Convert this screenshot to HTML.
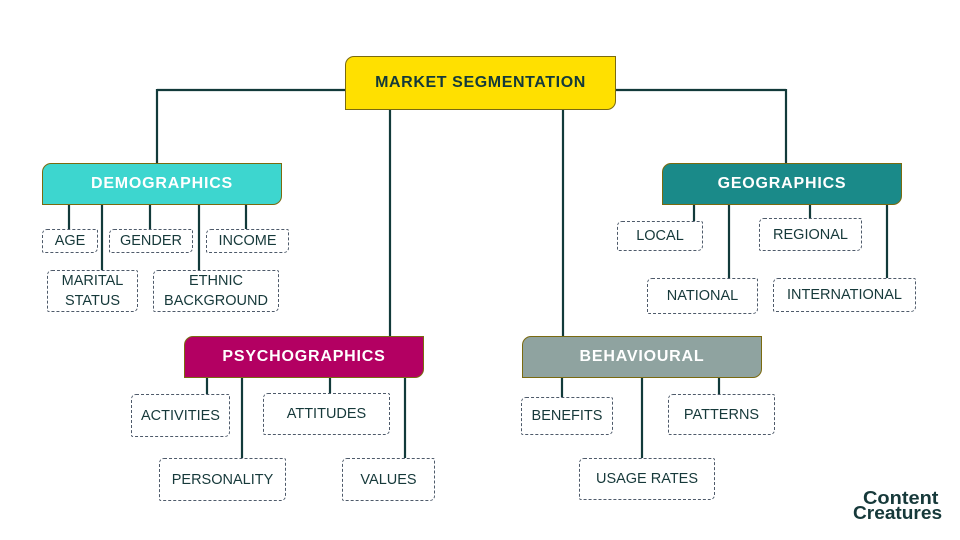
<!DOCTYPE html>
<html>
<head>
<meta charset="utf-8">
<style>
  html, body { margin:0; padding:0; }
  body { width:960px; height:540px; background:#ffffff; position:relative; overflow:hidden;
         font-family:"Liberation Sans", "DejaVu Sans", sans-serif; }
  svg.lines { position:absolute; left:0; top:0; }
  .hd { position:absolute; box-sizing:border-box; border:1px solid #7a6a10;
        border-radius:9px 0 9px 0; color:#fff; font-weight:bold; font-size:16px;
        display:flex; align-items:center; justify-content:center; letter-spacing:0.8px; }
  .main { background:#ffe000; color:#143a3a; font-size:16px; letter-spacing:0.6px; }
  .lf { position:absolute; box-sizing:border-box; border:1px dashed #4e5a6a;
        border-radius:5px 2px 5px 2px; background:#fff; color:#16393a; font-size:14.5px;
        display:flex; align-items:center; justify-content:center; text-align:center;
        line-height:20px; }
  .logo { position:absolute; color:#16393a; font-size:18px; line-height:15px; font-weight:bold;
          white-space:nowrap; transform-origin:0 0; }
</style>
</head>
<body>
<svg class="lines" width="960" height="540" viewBox="0 0 960 540">
  <g stroke="#123a3a" stroke-width="2.2" fill="none">
    <path d="M157 90 H346 M615 90 H786"/>
    <path d="M157 89 V164 M786 89 V164"/>
    <path d="M390 109 V337 M563 109 V337"/>
    <path d="M69 204 V230 M102 204 V271 M150 204 V230 M199 204 V271 M246 204 V230"/>
    <path d="M694 204 V222 M729 204 V279 M810 204 V219 M887 204 V279"/>
    <path d="M207 377 V395 M242 377 V459 M330 377 V394 M405 377 V459"/>
    <path d="M562 377 V398 M642 377 V459 M719 377 V395"/>
  </g>
</svg>

<div class="hd main" style="left:345px;top:56px;width:271px;height:54px;">MARKET SEGMENTATION</div>

<div class="hd" style="left:42px;top:163px;width:240px;height:42px;background:#3dd6cf;">DEMOGRAPHICS</div>
<div class="hd" style="left:662px;top:163px;width:240px;height:42px;background:#1a8a89;">GEOGRAPHICS</div>
<div class="hd" style="left:184px;top:336px;width:240px;height:42px;background:#b30062;">PSYCHOGRAPHICS</div>
<div class="hd" style="left:522px;top:336px;width:240px;height:42px;background:#8fa3a0;">BEHAVIOURAL</div>

<div class="lf" style="left:42px;top:229px;width:56px;height:24px;">AGE</div>
<div class="lf" style="left:109px;top:229px;width:84px;height:24px;">GENDER</div>
<div class="lf" style="left:206px;top:229px;width:83px;height:24px;">INCOME</div>
<div class="lf" style="left:47px;top:270px;width:91px;height:42px;">MARITAL<br>STATUS</div>
<div class="lf" style="left:153px;top:270px;width:126px;height:42px;">ETHNIC<br>BACKGROUND</div>

<div class="lf" style="left:617px;top:221px;width:86px;height:30px;">LOCAL</div>
<div class="lf" style="left:759px;top:218px;width:103px;height:33px;">REGIONAL</div>
<div class="lf" style="left:647px;top:278px;width:111px;height:36px;">NATIONAL</div>
<div class="lf" style="left:773px;top:278px;width:143px;height:34px;">INTERNATIONAL</div>

<div class="lf" style="left:131px;top:394px;width:99px;height:43px;">ACTIVITIES</div>
<div class="lf" style="left:263px;top:393px;width:127px;height:42px;">ATTITUDES</div>
<div class="lf" style="left:159px;top:458px;width:127px;height:43px;">PERSONALITY</div>
<div class="lf" style="left:342px;top:458px;width:93px;height:43px;">VALUES</div>

<div class="lf" style="left:521px;top:397px;width:92px;height:38px;">BENEFITS</div>
<div class="lf" style="left:668px;top:394px;width:107px;height:41px;">PATTERNS</div>
<div class="lf" style="left:579px;top:458px;width:136px;height:42px;">USAGE RATES</div>

<div class="logo" style="left:863px;top:491px;transform:scaleX(1.11);">Content</div>
<div class="logo" style="left:853px;top:506px;transform:scaleX(1.06);">Creatures</div>
</body>
</html>
